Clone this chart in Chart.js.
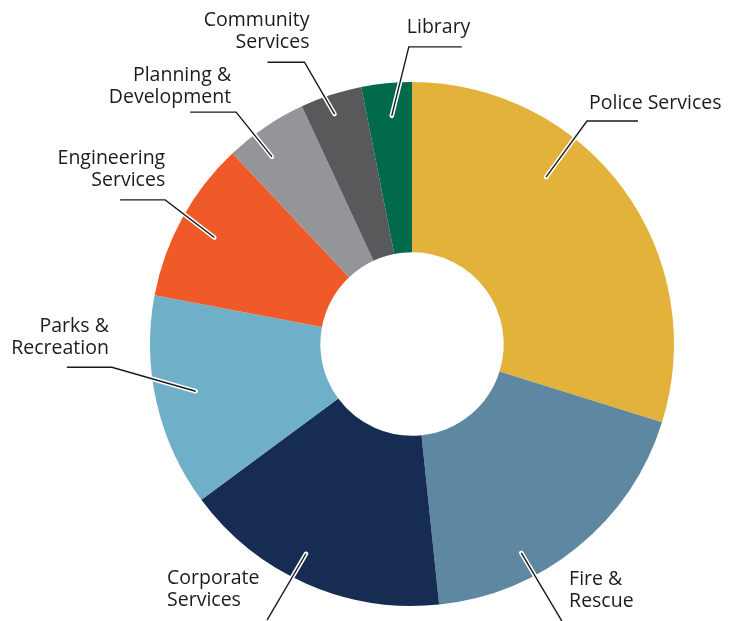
<!DOCTYPE html>
<html>
<head>
<meta charset="utf-8">
<script src="https://cdn.jsdelivr.net/npm/chart.js@4"></script>
<style>
html,body{margin:0;padding:0;background:#fff;}
#wrap{width:739px;height:621px;position:relative;}
</style>
</head>
<body>
<div id="wrap"><canvas id="c" width="739" height="621"></canvas></div>
<script>
const categories = ["Police Services","Fire & Rescue","Corporate Services","Parks & Recreation","Engineering Services","Planning & Development","Community Services","Library"];
const labelLines = [["Police Services"],["Fire &","Rescue"],["Corporate","Services"],["Parks &","Recreation"],["Engineering","Services"],["Planning &","Development"],["Community","Services"],["Library"]];
const values = [29.8, 18.5, 16.5, 13.1, 10.0, 5.1, 3.8, 3.1];
const colors = ["#E3B23A","#5E88A1","#162C52","#70AFC8","#F05A29","#939598","#58595B","#006A4A"];

// leader layout: t = position within slice (0..1), r = fraction of outer radius
// elbow given the same way; hLen = horizontal segment (+right / -left); text offset from elbow
const leaders = [
  {t:0.361, r:0.817, et:0.355, er:1.082, hLen:51,  tx:2,    ty:-18, align:"left"},
  {t:0.675, r:0.900, et:0.663, er:1.204, hLen:0,   tx:7,    ty:-42, align:"left"},
  {t:0.551, r:0.897, et:0.566, er:1.190, hLen:0,   tx:-100, ty:-42, align:"left"},
  {t:0.512, r:0.845, et:0.679, er:1.149, hLen:-45, tx:-3,   ty:-41, align:"right"},
  {t:0.488, r:0.857, et:0.543, er:1.091, hLen:-45, tx:0,    ty:-41, align:"right"},
  {t:0.351, r:0.892, et:0.330, er:1.111, hLen:-46, tx:-5,   ty:-37, align:"right"},
  {t:0.457, r:0.926, et:0.290, er:1.151, hLen:-37, tx:5,    ty:-42, align:"right"},
  {t:0.545, r:0.874, et:0.945, er:1.134, hLen:53,  tx:-2,   ty:-19, align:"left"}
];

const leaderPlugin = {
  id:'leaders',
  afterDraw(chart){
    const ctx = chart.ctx;
    const meta = chart.getDatasetMeta(0);
    meta.data.forEach((arc, i) => {
      const L = leaders[i];
      const p = arc.getProps(['x','y','startAngle','endAngle','outerRadius'], true);
      const R = p.outerRadius;
      const at = t => p.startAngle + (p.endAngle - p.startAngle) * t;
      const a1 = at(L.t), a2 = at(L.et);
      const sx = p.x + R*L.r*Math.cos(a1), sy = p.y + R*L.r*Math.sin(a1);
      const ex = p.x + R*L.er*Math.cos(a2), ey = p.y + R*L.er*Math.sin(a2);
      const hx = ex + L.hLen;
      ctx.save();
      ctx.lineJoin = 'miter';
      ctx.beginPath();
      ctx.moveTo(sx, sy); ctx.lineTo(ex, ey); if (L.hLen) ctx.lineTo(hx, ey);
      ctx.strokeStyle = '#ffffff'; ctx.lineWidth = 4.5; ctx.lineCap = 'round';
      ctx.stroke();
      ctx.beginPath();
      ctx.moveTo(sx, sy); ctx.lineTo(ex, ey); if (L.hLen) ctx.lineTo(hx, ey);
      ctx.strokeStyle = '#1a1a1a'; ctx.lineWidth = 1.4; ctx.lineCap = 'butt';
      ctx.stroke();
      ctx.fillStyle = '#1c1c1c';
      ctx.font = '19.5px "Open Sans", sans-serif';
      ctx.textAlign = L.align;
      ctx.textBaseline = 'middle';
      labelLines[i].forEach((ln, k) => {
        ctx.fillText(ln, ex + L.tx, ey + L.ty + k*22);
      });
      ctx.restore();
    });
  }
};

new Chart(document.getElementById('c'), {
  type:'doughnut',
  data:{labels:categories, datasets:[{data:values, backgroundColor:colors, borderWidth:0, hoverOffset:0}]},
  options:{
    responsive:false, animation:false, cutout:'35%',
    layout:{padding:{left:150, right:65, top:82, bottom:15}},
    plugins:{legend:{display:false}, tooltip:{enabled:false}}
  },
  plugins:[leaderPlugin]
});
</script>
</body>
</html>
